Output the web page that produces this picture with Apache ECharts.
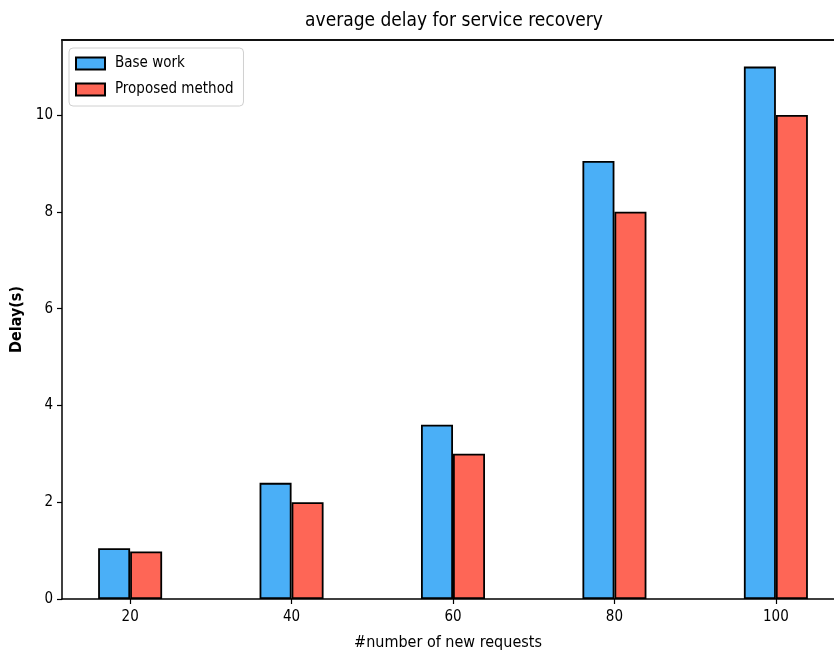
<!DOCTYPE html>
<html>
<head>
<meta charset="utf-8">
<script src="https://cdn.jsdelivr.net/npm/echarts@6/dist/echarts.min.js"></script>
<style>
  html, body { margin: 0; padding: 0; background: #fff; }
  #chart { width: 834px; height: 654px; }
</style>
</head>
<body>
<div id="chart"></div>
<script>
// Number of new requests (x positions of the bar groups)
const requests = [20, 40, 60, 80, 100];
// Average delay in seconds for each method
const baseWork = [1.05, 2.4, 3.6, 9.05, 11.0];
const proposedMethod = [0.98, 2.0, 3.0, 8.0, 10.0];
// Axis tick labels
const xTicks = [20, 40, 60, 80, 100];
const yTicks = [0, 2, 4, 6, 8, 10];

const FONT = '"DejaVu Sans Condensed", "DejaVu Sans", sans-serif';

const chart = echarts.init(document.getElementById('chart'), null, { renderer: 'canvas' });

function pairs(vals) {
  return requests.map((x, i) => [x, vals[i]]);
}

const X_MIN = 11.56, X_MAX = 107.2;

chart.setOption({
  animation: false,
  backgroundColor: '#ffffff',
  textStyle: { fontFamily: FONT, color: '#000' },
  title: {
    text: 'average delay for service recovery',
    left: 449,
    textAlign: 'center',
    top: 7,
    textStyle: { fontFamily: FONT, fontSize: 19, fontWeight: 'normal', color: '#000' }
  },
  legend: {
    orient: 'vertical',
    left: 69,
    top: 48,
    icon: 'rect',
    itemWidth: 29,
    itemHeight: 12,
    itemGap: 11,
    padding: [8, 10, 9, 6],
    backgroundColor: '#fff',
    borderColor: '#d0d0d0',
    borderWidth: 1,
    borderRadius: 4,
    textStyle: { fontFamily: FONT, fontSize: 15, color: '#000', padding: [0, 0, 0, 5] },
    data: ['Base work', 'Proposed method']
  },
  grid: {
    left: 62, right: 0, top: 40, bottom: 55,
    show: false,
    containLabel: false,
    outerBoundsMode: 'none'
  },
  xAxis: [
    {
      type: 'value',
      min: X_MIN,
      max: X_MAX,
      name: '#number of new requests',
      nameLocation: 'middle',
      nameGap: 36,
      nameTextStyle: { fontFamily: FONT, fontSize: 16, color: '#000' },
      axisLine: { lineStyle: { color: '#000', width: 1.5 } },
      axisTick: { show: true, length: 5, lineStyle: { color: '#000', width: 1.2 }, customValues: xTicks },
      axisLabel: { fontFamily: FONT, fontSize: 15, color: '#000', margin: 11, customValues: xTicks },
      splitLine: { show: false }
    },
    {
      // top frame line
      type: 'value',
      position: 'top',
      min: X_MIN,
      max: X_MAX,
      axisLine: { show: true, lineStyle: { color: '#111', width: 2 } },
      axisTick: { show: false },
      axisLabel: { show: false },
      splitLine: { show: false }
    }
  ],
  yAxis: {
    type: 'value',
    min: 0,
    max: 11.55,
    name: 'Delay(s)',
    nameLocation: 'middle',
    nameGap: 33,
    nameTextStyle: { fontFamily: FONT, fontSize: 16, fontWeight: 'bold', color: '#000' },
    axisLine: { show: true, lineStyle: { color: '#000', width: 1.5 } },
    axisTick: { show: true, length: 5, lineStyle: { color: '#000', width: 1.2 }, customValues: yTicks },
    axisLabel: { fontFamily: FONT, fontSize: 15, color: '#000', margin: 9, customValues: yTicks },
    splitLine: { show: false }
  },
  series: [
    {
      name: 'Base work',
      type: 'bar',
      xAxisIndex: 0,
      data: pairs(baseWork),
      barWidth: 32,
      barGap: '0%',
      itemStyle: { color: '#4aaff7', borderColor: '#000', borderWidth: 1.8 }
    },
    {
      name: 'Proposed method',
      type: 'bar',
      xAxisIndex: 0,
      data: pairs(proposedMethod),
      barWidth: 32,
      barGap: '0%',
      itemStyle: { color: '#fe6656', borderColor: '#000', borderWidth: 1.8 }
    }
  ]
});
</script>
</body>
</html>
